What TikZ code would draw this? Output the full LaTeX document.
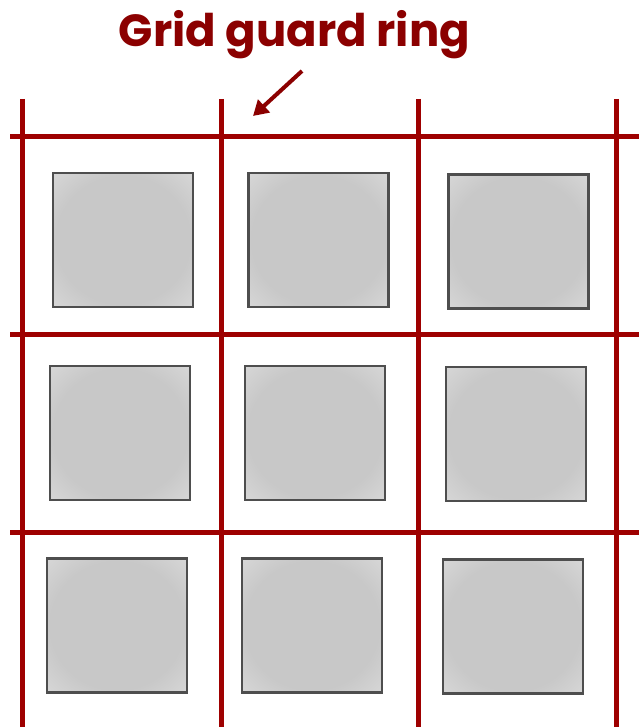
\documentclass[tikz,border=0pt]{standalone}
\usepackage{fontspec}
\setmainfont{Poppins}
\usetikzlibrary{arrows.meta}
\definecolor{ringred}{RGB}{158,0,0}
\definecolor{titlered}{RGB}{139,0,0}
\definecolor{padmid}{RGB}{200,200,200}
\definecolor{padedge}{RGB}{226,226,226}
\definecolor{padline}{RGB}{78,78,78}
\pgfdeclareradialshading{padshade}{\pgfpoint{0bp}{0bp}}{color(0bp)=(padmid); color(24bp)=(padmid); color(44bp)=(padedge); color(50bp)=(padedge)}

\begin{document}
\begin{tikzpicture}[x=1pt, y=-1pt, every node/.style={inner sep=0pt},
    pad/.style={draw=padline, line width=2.2pt, shading=padshade, minimum width=140pt, minimum height=134pt}]
    \useasboundingbox (0,0) rectangle (639,727);
    % title with arrow pointing at the ring
    \node[font=\bfseries\fontsize{45}{45}\selectfont, text=titlered, anchor=base] (title) at (294.5,47) {Grid guard ring};
    \coordinate (tail) at (302,71);
    \coordinate (tip) at (253,116);
    \draw[titlered, line width=4pt, -{Triangle[length=15pt, width=17pt]}] (tail) -- (tip);
    % guard ring lines
    \foreach \x in {22,221,418,616}
        \draw[ringred, line width=5pt] (\x,99) -- (\x,727);
    \foreach \y in {137,334,532}
        \draw[ringred, line width=5pt] (10,\y) -- (639,\y);
    % pixel pads
    \foreach \name/\cx/\cy in {p11/123/240, p12/318.5/240, p13/518.5/241.5,
                               p21/120/433, p22/315/433, p23/516/434,
                               p31/117/625.5, p32/312/625.5, p33/513/626.5}
        \node[pad] (\name) at (\cx,\cy) {};
\end{tikzpicture}
\end{document}
